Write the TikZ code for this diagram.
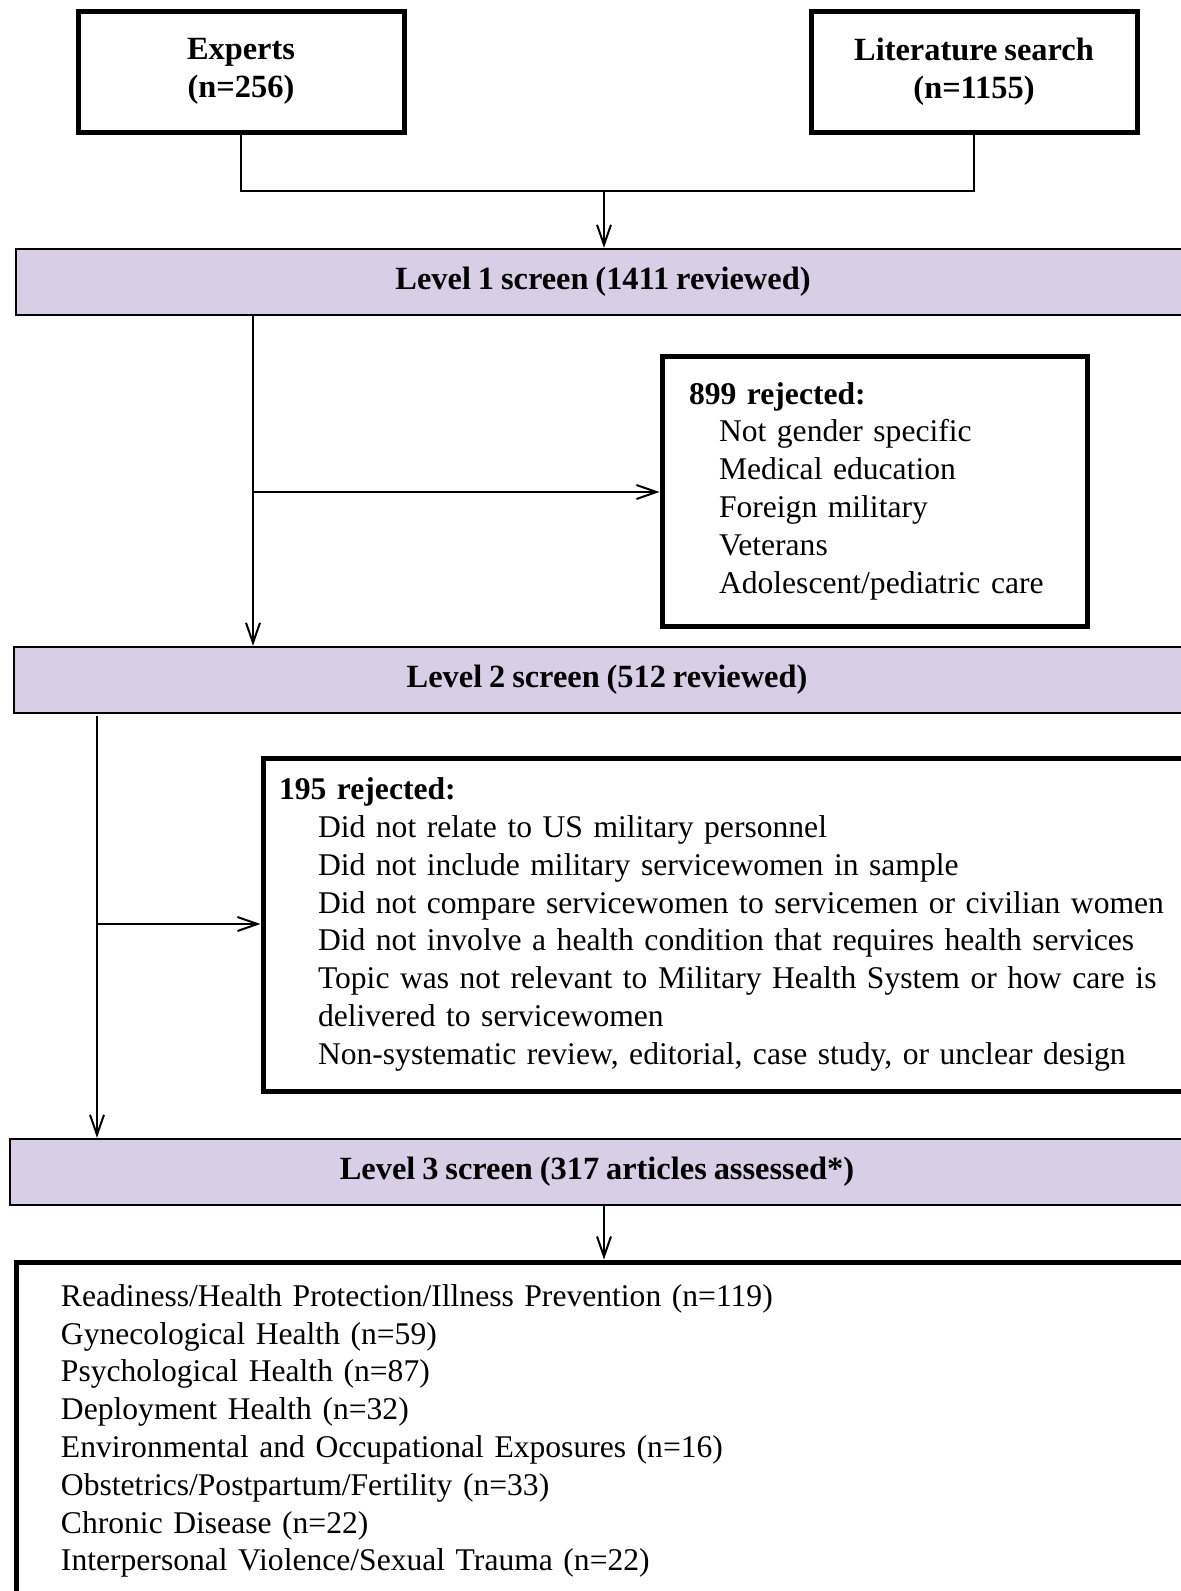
\documentclass[tikz,border=0pt]{standalone}
\usepackage{fontspec}
\setmainfont{Liberation Serif}[WordSpace=0.85]
\usetikzlibrary{arrows.meta}
\definecolor{screenfill}{RGB}{216,207,231}
\tikzset{
  srcbox/.style={draw, line width=2.5pt, minimum width=163pt, minimum height=60.5pt,
    align=center, font=\fontsize{16.2}{19}\selectfont\bfseries},
  screenbar/.style={draw, fill=screenfill, line width=1.2pt, minimum height=33pt,
    font=\fontsize{16.2}{19}\selectfont\bfseries},
  rejbox/.style={draw, line width=2.5pt, align=left, font=\fontsize{15.8}{18.9}\selectfont},
  joint/.style={line width=1pt},
  flow/.style={joint, -{Straight Barb[length=10pt,width=7pt]}}
}
\begin{document}
\begin{tikzpicture}[x=0.5pt, y=-0.5pt]
  \useasboundingbox (0,0) rectangle (1181,1591);
  \clip (0,0) rectangle (1181,1591);

  % Sources
  \node[srcbox] (experts) at (241,71.5) {Experts\\(n=256)};
  \node[srcbox] (litsearch) at (974,71.5) {Literature search\\(n=1155)};

  % Screening levels
  \node[screenbar, minimum width=587pt] (level1) at (603,282) {Level 1 screen (1411 reviewed)};
  \node[screenbar, minimum width=593pt] (level2) at (607,680) {Level 2 screen (512 reviewed)};
  \node[screenbar, minimum width=587pt] (level3) at (597,1172) {Level 3 screen (317 articles assessed*)};

  % Rejections
  \node[rejbox, minimum width=212.5pt, minimum height=135pt, text width=185.5pt, inner xsep=13.5pt]
    (rej1) at (874.5,491) {\textbf{899 rejected:}\\
      \hspace*{15pt}Not gender specific\\
      \hspace*{15pt}Medical education\\
      \hspace*{15pt}Foreign military\\
      \hspace*{15pt}Veterans\\
      \hspace*{15pt}Adolescent/pediatric care};
  \node[rejbox, minimum width=466pt, minimum height=166.5pt, text width=450pt, inner xsep=8pt]
    (rej2) at (729,924.5) {\textbf{195 rejected:}\\
      \hspace*{19.5pt}Did not relate to US military personnel\\
      \hspace*{19.5pt}Did not include military servicewomen in sample\\
      \hspace*{19.5pt}Did not compare servicewomen to servicemen or civilian women\\
      \hspace*{19.5pt}Did not involve a health condition that requires health services\\
      \hspace*{19.5pt}Topic was not relevant to Military Health System or how care is\\
      \hspace*{19.5pt}delivered to servicewomen\\
      \hspace*{19.5pt}Non-systematic review, editorial, case study, or unclear design};

  % Included topics
  \node[rejbox, minimum width=589.5pt, minimum height=169pt, text width=544.5pt, inner xsep=22.5pt]
    (outcome) at (605.5,1431) {Readiness/Health Protection/Illness Prevention (n=119)\\
      Gynecological Health (n=59)\\
      Psychological Health (n=87)\\
      Deployment Health (n=32)\\
      Environmental and Occupational Exposures (n=16)\\
      Obstetrics/Postpartum/Fertility (n=33)\\
      Chronic Disease (n=22)\\
      Interpersonal Violence/Sexual Trauma (n=22)};

  % Connectors
  \coordinate (merge) at (604,191);
  \draw[joint] (experts.south) |- (merge) -| (litsearch.south);
  \draw[flow] (merge) -- (merge |- level1.north);

  \coordinate (l1drop) at (253,316);
  \coordinate (l1branch) at (253,492);
  \draw[flow] (l1drop) -- (l1drop |- level2.north);
  \draw[flow] (l1branch) -- (l1branch -| rej1.west);

  \coordinate (l2drop) at (97,716);
  \coordinate (l2branch) at (97,924);
  \draw[flow] (l2drop) -- (l2drop |- level3.north);
  \draw[flow] (l2branch) -- (l2branch -| rej2.west);

  \draw[flow] (level3.south -| merge) -- (outcome.north -| merge);
\end{tikzpicture}
\end{document}
